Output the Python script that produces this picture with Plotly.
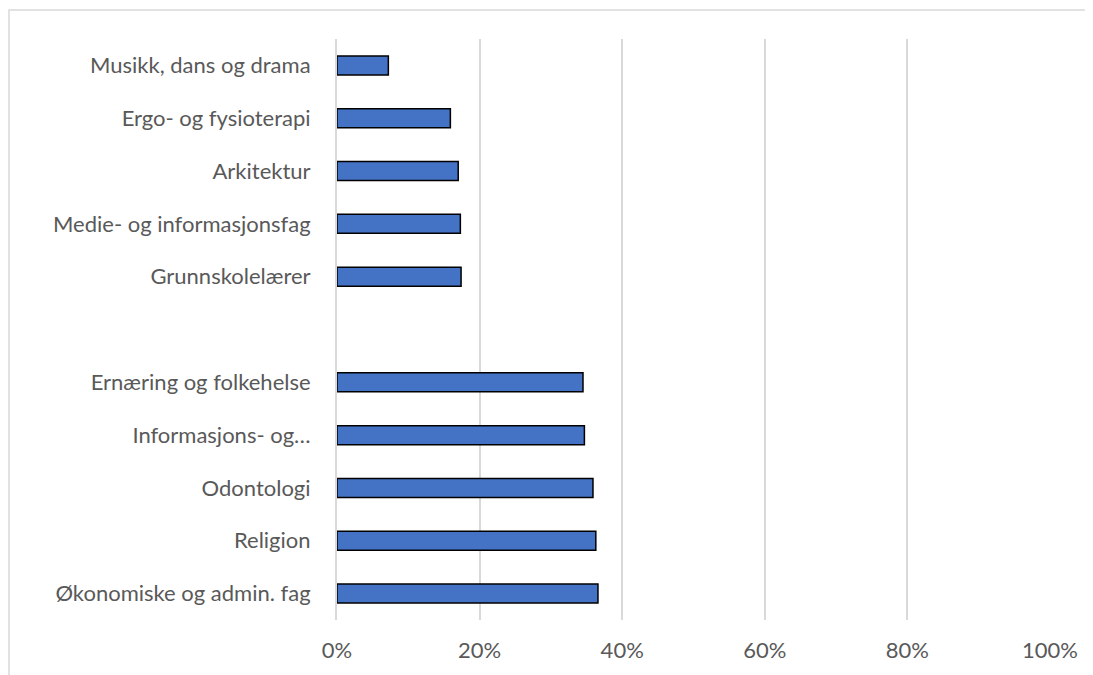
import plotly.graph_objects as go

# categories from top to bottom; a blank slot separates the two groups
categories = [
    "Musikk, dans og drama",
    "Ergo- og fysioterapi",
    "Arkitektur",
    "Medie- og informasjonsfag",
    "Grunnskolelærer",
    " ",
    "Ernæring og folkehelse",
    "Informasjons- og…",
    "Odontologi",
    "Religion",
    "Økonomiske og admin. fag",
]
shares = [0.072, 0.159, 0.170, 0.173, 0.174, None, 0.345, 0.347, 0.359, 0.363, 0.366]
x_ticks = [0, 0.2, 0.4, 0.6, 0.8, 1.0]
x_tick_labels = ["0%", "20%", "40%", "60%", "80%", "100%"]

font_color = "#595959"
grid_color = "#d9d9d9"

fig = go.Figure()
fig.add_trace(go.Bar(
    x=shares,
    y=categories,
    orientation="h",
    marker=dict(color="#4472c4", line=dict(color="black", width=1.5)),
    showlegend=False,
))

# page has an 8px body margin, so figure coords are page coords minus 8
fig.update_layout(
    width=1085,
    height=667,
    margin=dict(l=329, r=43, t=31, b=55),
    paper_bgcolor="white",
    plot_bgcolor="white",
    bargap=0.64,
    font=dict(family="Lato, Carlito, Calibri, sans-serif", size=22, color=font_color),
    xaxis=dict(
        range=[0, 1.0],
        tickvals=x_ticks,
        ticktext=x_tick_labels,
        showgrid=True,
        gridcolor=grid_color,
        gridwidth=2,
        zeroline=False,
        showline=False,
        ticks="",
        ticklabelstandoff=15,
    ),
    yaxis=dict(
        categoryorder="array",
        categoryarray=categories,
        autorange="reversed",
        showgrid=False,
        zeroline=False,
        showline=True,
        linecolor=grid_color,
        linewidth=2,
        ticks="",
        ticklabelstandoff=20,
    ),
    shapes=[dict(
        type="rect",
        xref="paper", yref="paper",
        x0=(1 - 329) / 713, x1=(1100 - 329) / 713,
        y0=(612 - 690) / 581, y1=(612 - 2) / 581,
        line=dict(color=grid_color, width=1.5),
        fillcolor="rgba(0,0,0,0)",
        layer="below",
    )],
)

fig.write_html("out.html")
